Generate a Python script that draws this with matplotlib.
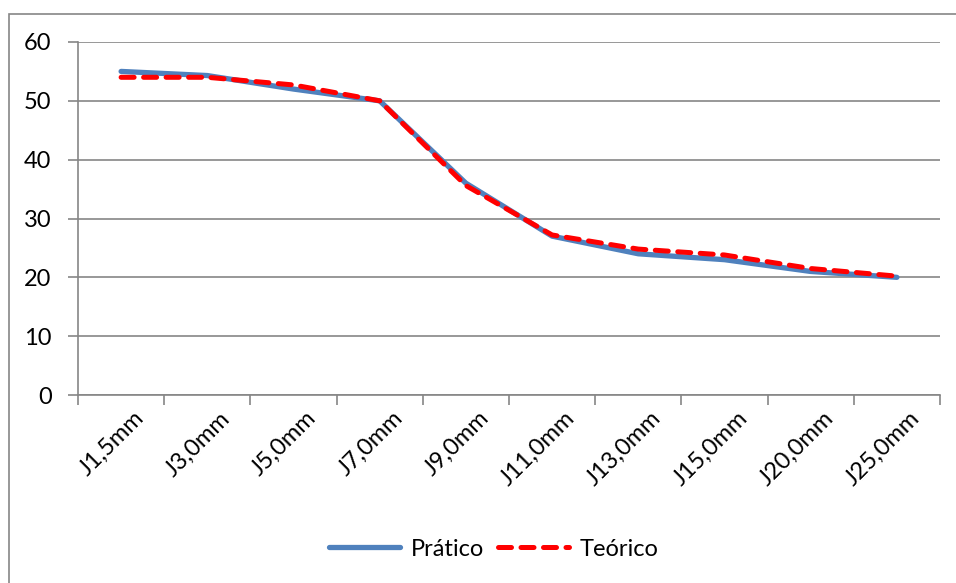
import numpy as np
import matplotlib.pyplot as plt
import matplotlib.transforms as mtransforms
from matplotlib.patches import Rectangle
from matplotlib.ticker import FixedLocator

categorias = ["J1,5mm", "J3,0mm", "J5,0mm", "J7,0mm", "J9,0mm",
              "J11,0mm", "J13,0mm", "J15,0mm", "J20,0mm", "J25,0mm"]
pratico = [55, 54.3, 52, 50, 36, 27, 24, 23, 21, 20]
teorico = [54, 54, 52.7, 50, 35.6, 27.2, 24.8, 23.8, 21.5, 20.2]

cinza = "#868686"
plt.rcParams['font.family'] = ['Lato', 'DejaVu Sans']
fs = 17

fig = plt.figure(figsize=(9.56, 5.83), dpi=100)
# moldura do grafico (estilo excel)
fig.patches.append(Rectangle((9/956, -0.1), 1.1, 1 - 14/583 + 0.1,
                             transform=fig.transFigure, fill=False,
                             edgecolor=cinza, lw=1.2))
ax = fig.add_axes((78/956, 1 - 395/583, (940 - 78)/956, (395 - 42)/583))

x = np.arange(len(categorias))
ax.plot(x, pratico, color="#4F81BD", lw=3.8, solid_capstyle="round",
        solid_joinstyle="round", label="Prático")
ax.plot(x, teorico, color="#FF0000", lw=3.6, ls=(0, (2.6, 1.9)),
        dash_capstyle="round", label="Teórico")

ax.set_xlim(-0.5, len(categorias) - 0.5)
ax.set_ylim(0, 60)
ax.set_yticks(range(0, 61, 10))
ax.yaxis.grid(True, color=cinza, lw=1.2)
ax.set_axisbelow(True)

# ticks nas fronteiras, rotulos no centro
ax.xaxis.set_major_locator(FixedLocator(np.arange(-0.5, len(categorias), 1)))
ax.xaxis.set_minor_locator(FixedLocator(x))
ax.set_xticklabels([])
ax.set_xticklabels(categorias, minor=True, rotation=45, ha="right",
                   rotation_mode="anchor", fontsize=fs)
ax.tick_params(axis="x", which="major", length=7, color=cinza, width=1.2)
ax.tick_params(axis="x", which="minor", length=0, pad=9)
ax.tick_params(axis="y", length=7, color=cinza, width=1.2, labelsize=fs, pad=12)
off = mtransforms.ScaledTranslation(0.12, 0.0, fig.dpi_scale_trans)
for lab in ax.get_xticklabels(minor=True):
    lab.set_transform(lab.get_transform() + off)

for s in ["top", "right"]:
    ax.spines[s].set_visible(False)
for s in ["left", "bottom"]:
    ax.spines[s].set_color(cinza)
    ax.spines[s].set_linewidth(1.2)

fig.legend(loc="center", bbox_to_anchor=(494/956, 1 - 549/583), ncol=2,
           frameon=False, fontsize=fs, handlelength=3.0, columnspacing=0.6,
           handletextpad=0.45)

fig.savefig("out.png", dpi=100)
